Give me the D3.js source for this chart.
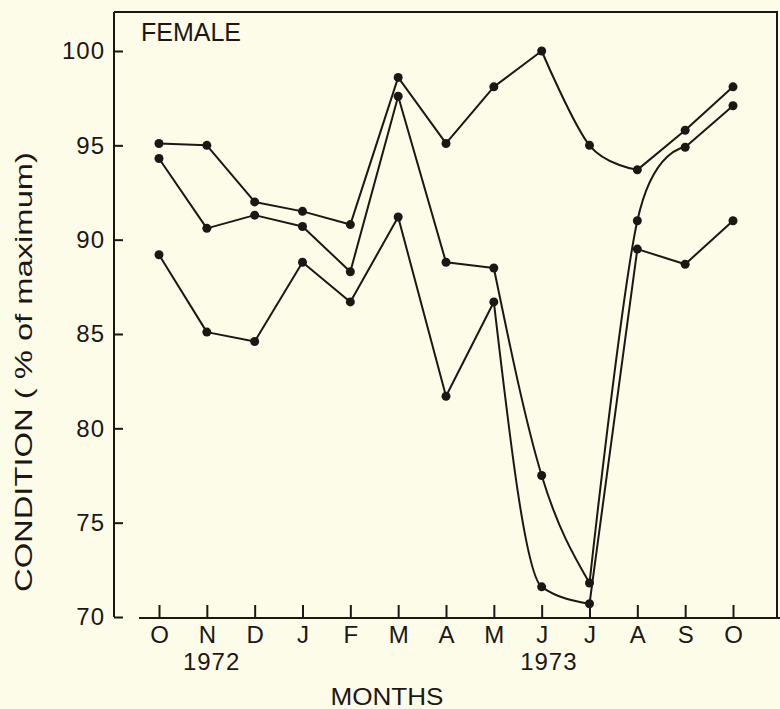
<!DOCTYPE html>
<html>
<head>
<meta charset="utf-8">
<script src="https://cdn.jsdelivr.net/npm/d3@7"></script>
<style>
  body { margin: 0; background: #fdfce9; }
  svg { display: block; }
  text { font-family: "Liberation Sans", Arial, sans-serif; fill: #1c1714; }
</style>
</head>
<body>
<svg id="chart" width="780" height="709"></svg>
<script>
// months from Oct 1972 to Oct 1973
const months = ["O", "N", "D", "J", "F", "M", "A", "M", "J", "J", "A", "S", "O"];
const years = ["1972", "1973"];
const yTicks = [70, 75, 80, 85, 90, 95, 100];

// condition (% of maximum), three curves
const seriesTop = [95.1, 95.0, 92.0, 91.5, 90.8, 98.6, 95.1, 98.1, 100.0, 95.0, 93.7, 95.8, 98.1];
const seriesMid = [94.3, 90.6, 91.3, 90.7, 88.3, 97.6, 88.8, 88.5, 77.5, 71.8, 91.0, 94.9, 97.1];
const seriesLow = [89.2, 85.1, 84.6, 88.8, 86.7, 91.2, 81.7, 86.7, 71.6, 70.7, 89.5, 88.7, 91.0];

const ink = "#1c1714";
const svg = d3.select("#chart");

const x = d3.scaleLinear().domain([0, 12]).range([159, 733]);
const y = d3.scaleLinear().domain([70, 100]).range([617, 51]);

// frame: top and right edge
svg.append("path")
  .attr("d", "M114,12H777V618")
  .attr("fill", "none")
  .attr("stroke", ink)
  .attr("stroke-width", 2);

// y axis
const yAxis = svg.append("g")
  .attr("transform", "translate(114,0)")
  .call(d3.axisLeft(y).tickValues(yTicks).tickSizeInner(-9).tickSizeOuter(0).tickPadding(9));
yAxis.select(".domain").remove();
yAxis.selectAll(".tick line").attr("stroke", ink).attr("stroke-width", 2);
yAxis.selectAll(".tick text")
  .attr("font-size", 24)
  .attr("letter-spacing", 1)
  .attr("font-family", null)
  .attr("fill", ink);
svg.append("line")
  .attr("x1", 114).attr("x2", 114)
  .attr("y1", 12).attr("y2", y(70))
  .attr("stroke", ink).attr("stroke-width", 2);

// x axis
const xAxis = svg.append("g")
  .attr("transform", "translate(0,618)")
  .call(d3.axisBottom(x).tickValues(d3.range(months.length)).tickFormat(i => months[i])
    .tickSizeInner(-13).tickSizeOuter(0).tickPadding(8));
xAxis.select(".domain").remove();
xAxis.selectAll(".tick line").attr("stroke", ink).attr("stroke-width", 2);
xAxis.selectAll(".tick text")
  .attr("font-size", 24)
  .attr("font-family", null)
  .attr("fill", ink);
svg.append("line")
  .attr("x1", 139).attr("x2", 780)
  .attr("y1", 618).attr("y2", 618)
  .attr("stroke", ink).attr("stroke-width", 2);

svg.selectAll(".year")
  .data(years)
  .join("text")
  .attr("class", "year")
  .attr("x", (d, i) => x(i === 0 ? 1.1 : 8.15))
  .attr("y", 670)
  .attr("text-anchor", "middle")
  .attr("font-size", 24)
  .attr("letter-spacing", 1)
  .text(d => d);

svg.append("text")
  .attr("x", 387)
  .attr("y", 705)
  .attr("text-anchor", "middle")
  .attr("font-size", 24)
  .attr("textLength", 113)
  .attr("lengthAdjust", "spacingAndGlyphs")
  .text("MONTHS");

svg.append("text")
  .attr("transform", "translate(32,372) rotate(-90)")
  .attr("text-anchor", "middle")
  .attr("font-size", 24)
  .attr("textLength", 440)
  .attr("lengthAdjust", "spacingAndGlyphs")
  .text("CONDITION ( % of maximum)");

svg.append("text")
  .attr("x", 141)
  .attr("y", 41)
  .attr("font-size", 25)
  .attr("textLength", 100)
  .attr("lengthAdjust", "spacingAndGlyphs")
  .text("FEMALE");

// mostly straight segments; parts of the summer dip are drawn smooth
const catmull = d3.curveCatmullRom.alpha(0);
const series = [
  { values: seriesTop, smooth: [[8, 10, catmull]] },
  { values: seriesMid, smooth: [[7, 9, d3.curveMonotoneX], [9, 11, catmull]] },
  { values: seriesLow, smooth: [[7, 9, d3.curveMonotoneX]] }
];

series.forEach(s => {
  const pts = s.values.map((v, i) => ({ i, v }));
  const g = svg.append("g");
  const pieces = [];
  let start = 0;
  s.smooth.forEach(([a, b, curve]) => {
    if (a > start) pieces.push([pts.slice(start, a + 1), d3.curveLinear]);
    pieces.push([pts.slice(a, b + 1), curve]);
    start = b;
  });
  pieces.push([pts.slice(start), d3.curveLinear]);

  pieces.forEach(([p, curve]) => {
    const line = d3.line().x(d => x(d.i)).y(d => y(d.v)).curve(curve);
    g.append("path")
      .attr("d", line(p))
      .attr("fill", "none")
      .attr("stroke", ink)
      .attr("stroke-width", 2)
      .attr("stroke-linejoin", "round");
  });

  g.selectAll("circle")
    .data(pts)
    .join("circle")
    .attr("cx", d => x(d.i))
    .attr("cy", d => y(d.v))
    .attr("r", 4.5)
    .attr("fill", ink);
});
</script>
</body>
</html>
